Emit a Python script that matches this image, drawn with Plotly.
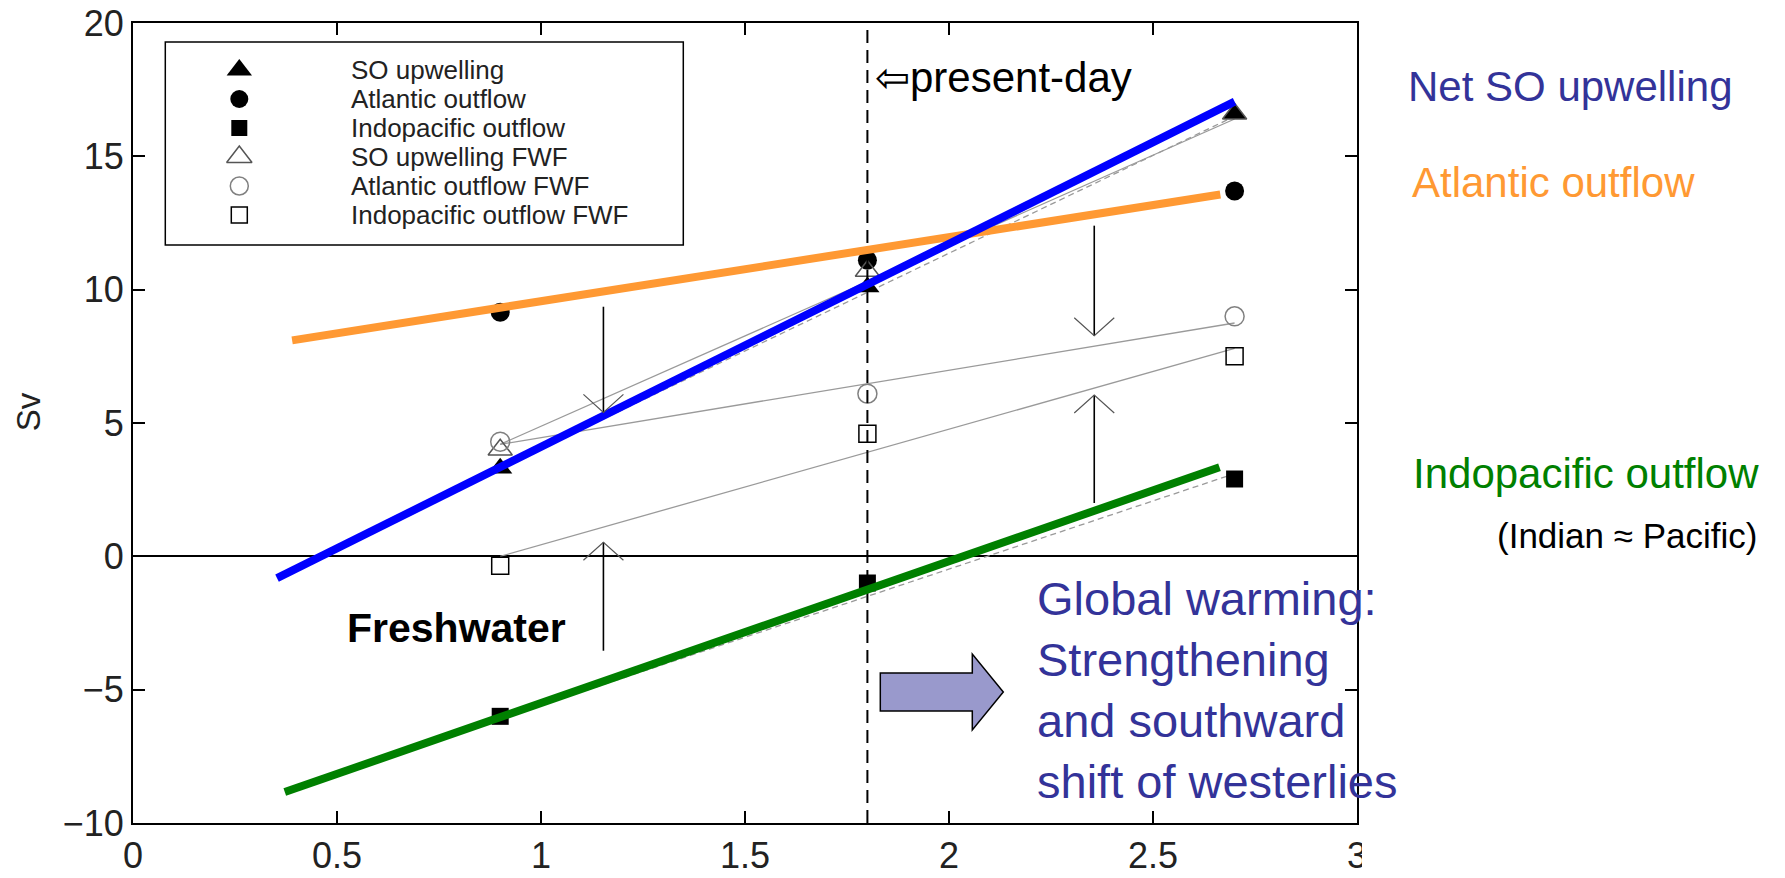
import plotly.graph_objects as go

# ---------------- data ----------------
x_runs = [0.9, 1.8, 2.7]
so_upwelling = [3.3, 10.1, 16.6]
atlantic_outflow = [9.15, 11.1, 13.7]
indopacific_outflow = [-6.0, -1.0, 2.9]
so_upwelling_fwf = [4.0, 10.7, 16.6]
atlantic_outflow_fwf = [4.3, 6.1, 9.0]
indopacific_outflow_fwf = [-0.35, 4.6, 7.5]

# thin grey fit lines (FWF runs) and dashed grey fits (control runs)
fit_x = [0.9, 2.7]
so_fwf_fit = [4.2, 16.4]
atl_fwf_fit = [4.2, 8.75]
indo_fwf_fit = [0.0, 7.8]
so_fit = [3.3, 16.5]
indo_fit = [-6.1, 3.1]

# thick hand-drawn trend lines
net_so_x = [0.353, 2.70]
net_so_y = [-0.82, 17.05]
atl_trend_x = [0.39, 2.665]
atl_trend_y = [8.1, 13.57]
indo_trend_x = [0.372, 2.663]
indo_trend_y = [-8.84, 3.34]

present_day_x = 1.8

# freshwater-effect arrows (x, start, end)
arrow_x = [1.153, 1.153, 2.356, 2.356]
arrow_start = [9.36, -3.54, 12.4, 2.0]
arrow_end = [5.4, 0.53, 8.27, 6.05]

x_ticks = [0, 0.5, 1, 1.5, 2, 2.5, 3]
x_tick_labels = ["0", "0.5", "1", "1.5", "2", "2.5", "3"]
y_ticks = [-10, -5, 0, 5, 10, 15, 20]
y_tick_labels = ["\u221210", "\u22125", "0", "5", "10", "15", "20"]

legend_labels = ["SO upwelling", "Atlantic outflow", "Indopacific outflow",
                 "SO upwelling FWF", "Atlantic outflow FWF", "Indopacific outflow FWF"]

# ---------------- layout helpers (pixel -> data / paper) ----------------
X0_PX, PX_PER_X = 132.7, 408.0
Y0_PX, PX_PER_Y = 23.0, 26.667
PLOT_W, PLOT_H = 1224.0, 800.0


def dx(px):
    return (px - X0_PX) / PX_PER_X


def dy(py):
    return 20 - (py - Y0_PX) / PX_PER_Y


def pxp(px):
    return (px - X0_PX) / PLOT_W


def pyp(py):
    return (Y0_PX + PLOT_H - py) / PLOT_H


FONT = "Liberation Sans, Arial, Helvetica, sans-serif"

series = [
    (so_upwelling, dict(symbol="triangle-up", size=21, color="black")),
    (atlantic_outflow, dict(symbol="circle", size=19, color="black")),
    (indopacific_outflow, dict(symbol="square", size=17, color="black")),
    (so_upwelling_fwf, dict(symbol="triangle-up-open", size=21, color="#555555",
                            line=dict(width=1.5, color="#555555"))),
    (atlantic_outflow_fwf, dict(symbol="circle-open", size=19, color="#808080",
                                line=dict(width=1.5, color="#808080"))),
    (indopacific_outflow_fwf, dict(symbol="square-open", size=17, color="black",
                                   line=dict(width=1.5, color="black"))),
]

fig = go.Figure()

# grey fit lines
for fy in (so_fwf_fit, atl_fwf_fit, indo_fwf_fit):
    fig.add_trace(go.Scatter(x=fit_x, y=fy, mode="lines",
                             line=dict(color="#9a9a9a", width=1.3),
                             showlegend=False, hoverinfo="skip"))
for fy in (so_fit, indo_fit):
    fig.add_trace(go.Scatter(x=fit_x, y=fy, mode="lines",
                             line=dict(color="#9a9a9a", width=1.3, dash="6px,4px"),
                             showlegend=False, hoverinfo="skip"))

# markers
for vals, mk in series:
    fig.add_trace(go.Scatter(x=x_runs, y=vals, mode="markers", marker=mk,
                             showlegend=False))

# present-day dashed line
fig.add_trace(go.Scatter(x=[present_day_x, present_day_x], y=[-10, 20], mode="lines",
                         line=dict(color="black", width=2, dash="13px,7px"),
                         showlegend=False, hoverinfo="skip"))

# thick trend lines
for tx, ty, col in ((atl_trend_x, atl_trend_y, "#ff9933"),
                    (net_so_x, net_so_y, "#0000ff"),
                    (indo_trend_x, indo_trend_y, "#008000")):
    fig.add_trace(go.Scatter(x=tx, y=ty, mode="lines", line=dict(color=col, width=8),
                             showlegend=False, hoverinfo="skip"))

# black arrows with open chevron heads
HW, HH = 20 / PX_PER_X, 18 / PX_PER_Y
for ax, a0, a1 in zip(arrow_x, arrow_start, arrow_end):
    d = 1 if a1 > a0 else -1
    fig.add_trace(go.Scatter(x=[ax, ax], y=[a0, a1], mode="lines",
                             line=dict(color="black", width=1.6),
                             showlegend=False, hoverinfo="skip"))
    fig.add_trace(go.Scatter(x=[ax - HW, ax, ax + HW], y=[a1 - d * HH, a1, a1 - d * HH],
                             mode="lines", line=dict(color="#555555", width=1.2),
                             showlegend=False, hoverinfo="skip"))

# manual legend (MATLAB style box)
fig.add_shape(type="rect", xref="x", yref="y", x0=dx(165), x1=dx(683), y0=dy(42), y1=dy(245),
              line=dict(color="black", width=1.5), fillcolor="white", layer="below")
legend_sizes = [22, 18, 16, 22, 18, 16]
for i, ((vals, mk), lab) in enumerate(zip(series, legend_labels)):
    row_py = 70 + 29 * i
    lmk = dict(mk)
    lmk["size"] = legend_sizes[i]
    fig.add_trace(go.Scatter(x=[dx(239)], y=[dy(row_py)], mode="markers", marker=lmk,
                             showlegend=False, hoverinfo="skip"))
    fig.add_annotation(x=pxp(350), y=pyp(row_py), xref="paper", yref="paper", text=lab,
                       showarrow=False, xanchor="left", yanchor="middle", borderpad=0,
                       font=dict(family=FONT, size=26, color="#222222"))

# block arrow (global warming)
bx0, bx1, btip = dx(880), dx(972), dx(1003)
by0, by1, hy0, hy1, tipy = dy(673), dy(711), dy(654), dy(730), dy(692)
fig.add_shape(type="path", xref="x", yref="y",
              path=(f"M {bx0},{by0} L {bx1},{by0} L {bx1},{hy0} L {btip},{tipy} "
                    f"L {bx1},{hy1} L {bx1},{by1} L {bx0},{by1} Z"),
              fillcolor="#9999cc", line=dict(color="black", width=1.5), layer="above")

# clip the "3" tick label like in the reference
fig.add_shape(type="rect", xref="paper", yref="paper", x0=1 + 5 / PLOT_W, x1=1.5, y0=-0.2, y1=-0.003,
              fillcolor="white", line=dict(width=0), layer="above")


# text annotations
def note(px, py, text, size, color, bold=False, align="left"):
    fig.add_annotation(x=pxp(px), y=pyp(py), xref="paper", yref="paper",
                       text=f"<b>{text}</b>" if bold else text, showarrow=False,
                       xanchor="left", yanchor="middle", align=align,
                       font=dict(family=FONT, size=size, color=color))


note(873, 77, "\u21e6present-day", 42, "black")
note(1406, 87, "Net SO upwelling", 42, "#333399")
note(1410, 183, "Atlantic outflow", 42, "#ff9933")
note(1411, 473, "Indopacific outflow", 42, "#008000")
note(1495, 535, "(Indian \u2248 Pacific)", 35, "black")
note(345, 628, "Freshwater", 41, "black", bold=True)
note(1035, 690, "Global warming:<br>Strengthening<br>and southward<br>shift of westerlies",
     47, "#333399")

# y axis title
fig.add_annotation(x=pxp(29), y=pyp(412), xref="paper", yref="paper", text="Sv", showarrow=False,
                   textangle=-90, xanchor="center", yanchor="middle",
                   font=dict(family=FONT, size=33, color="#222222"))

axis_common = dict(showgrid=False, showline=True, linecolor="black", linewidth=2,
                   mirror="ticks", ticks="inside", ticklen=12, tickwidth=1.5, automargin=False,
                   tickcolor="black", tickfont=dict(family=FONT, size=36, color="#222222"))

fig.update_xaxes(range=[0, 3], tickmode="array", tickvals=x_ticks, ticktext=x_tick_labels,
                 zeroline=False, **axis_common)
fig.update_yaxes(range=[-10, 20], tickmode="array", tickvals=y_ticks, ticktext=y_tick_labels,
                 zeroline=True, zerolinecolor="black", zerolinewidth=2, **axis_common)

fig.update_layout(width=1785, height=878, margin=dict(l=133, r=428, t=23, b=55, autoexpand=False),
                  paper_bgcolor="white", plot_bgcolor="white", showlegend=False,
                  font=dict(family=FONT))

fig.write_html("out.html", config={"displayModeBar": False})
